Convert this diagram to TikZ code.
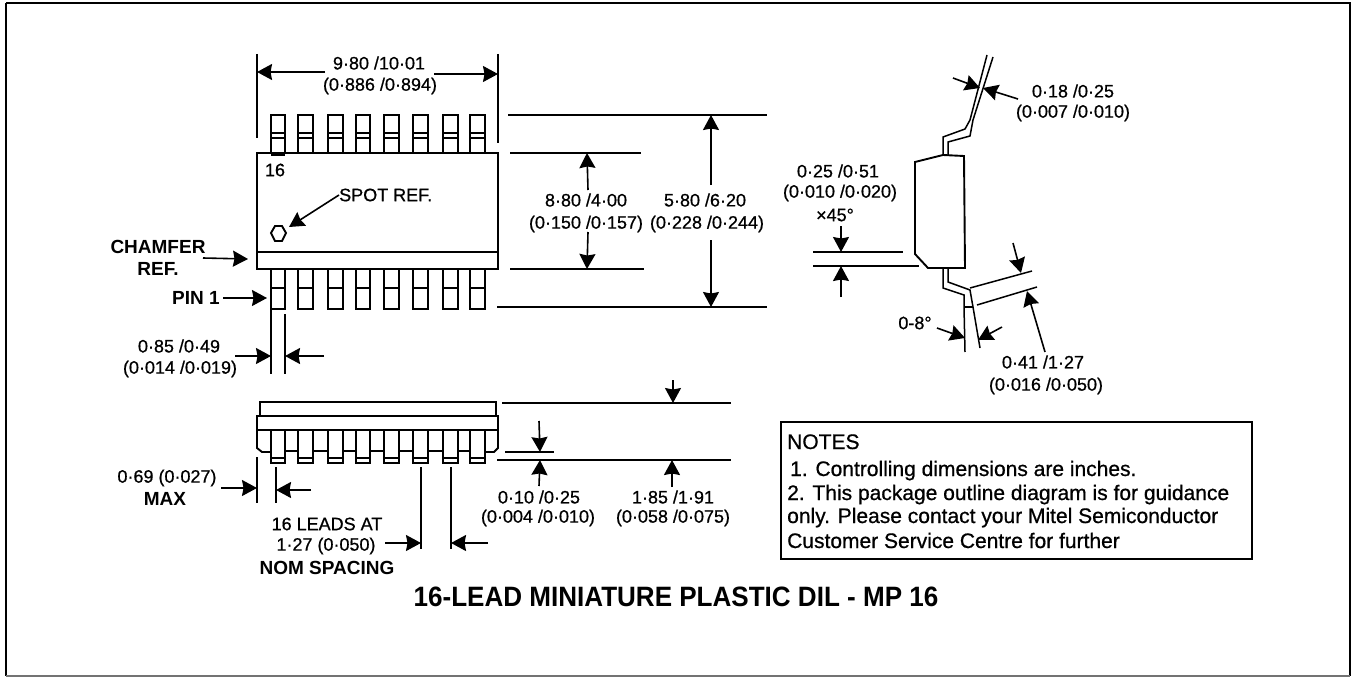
\documentclass[tikz,border=0pt]{standalone}
\usepackage{fontspec}
\setmainfont{Liberation Sans}
\newfontfamily\dimfont[FakeBold=0.7]{Liberation Sans}
\usetikzlibrary{arrows.meta}
\tikzset{
  x=1pt,y=-1pt,
  ln/.style={line width=1.9pt,black},
  thin ln/.style={line width=1.5pt,black},
  dim/.style={line width=1.6pt,black,-{Stealth[length=15pt,width=16pt,inset=1.5pt]}},
  lbl/.style={inner sep=0pt,font=\fontsize{18}{18}\dimfont},
  caps/.style={inner sep=0pt,font=\fontsize{19}{19}\selectfont\bfseries},
  note/.style={inner sep=0pt,anchor=base west,font=\fontsize{21}{21}\dimfont},
}
\begin{document}
\begin{tikzpicture}
\useasboundingbox (0,0) rectangle (1352,677);
\fill[white] (0,0) rectangle (1352,677);
\draw[line width=2pt] (6,3) -- (1350,3) -- (1350,676);
\draw[line width=2pt] (6,3) -- (6,676);
\draw[line width=1.2pt,black!55] (6,676) -- (1350,676);
% top view body
\draw[ln] (257,153) rectangle (498,269);
\draw[ln] (257,252) -- (498,252);
\foreach \a/\b in {271/285,298/313,328/343,356/370,384/399,413/428,443/458,470/485}{
  \draw[ln] (\a,153) -- (\a,115) -- (\b,115) -- (\b,153);
  \draw[thin ln] (\a,133) -- (\b,133) (\a,138) -- (\b,138);
  \draw[ln] (\a,269) -- (\a,309) -- (\b,309) -- (\b,269);
  \draw[line width=2.6pt] (\a,288) -- (\b,288);
}
\draw[line width=2.6pt] (271,155) -- (285,155);
\node[lbl] (n16) at (275,170) {16};
\node[lbl,anchor=west] (spot) at (339,195) {SPOT REF.};
\draw[ln] (271,233) -- (275,226) -- (282,226) -- (286,233) -- (282,241) -- (275,241) -- cycle;
\coordinate (spotc) at (289,227);
\draw[dim] (spot.west) -- (spotc);
% top dimension
\draw[ln] (257,54) -- (257,138);
\draw[ln] (498,54) -- (498,143);
\node[lbl] (d1a) at (379,63) {9·80 /10·01};
\node[lbl] (d1b) at (380,86) {(0·886 /0·894)};
\coordinate (e1) at (257,72); \coordinate (s1) at (325,72);
\coordinate (e2) at (498,74); \coordinate (s2) at (434,74);
\draw[dim] (s1) -- (e1);
\draw[dim] (s2) -- (e2);
% chamfer & pin 1
\node[caps] (ch) at (158,247) {CHAMFER};
\node[caps] (rf) at (158,269) {REF.};
\coordinate (cs) at (203,258); \coordinate (ce) at (248,259);
\draw[dim] (cs) -- (ce);
\node[caps] (pin) at (196,298) {PIN 1};
\coordinate (ps) at (223,298); \coordinate (pe) at (267,298);
\draw[dim] (ps) -- (pe);
% pin width
\draw[ln] (271,309) -- (271,374);
\draw[ln] (285,314) -- (285,374);
\node[lbl] (w1) at (179,346) {0·85 /0·49};
\node[lbl] (w2) at (180,369) {(0·014 /0·019)};
\coordinate (ws) at (235,356); \coordinate (we) at (271,356);
\coordinate (vs) at (324,356); \coordinate (ve) at (285,356);
\draw[dim] (ws) -- (we);
\draw[dim] (vs) -- (ve);
% right dimension lines
\draw[ln] (508,115) -- (767,115);
\draw[ln] (510,153) -- (641,153);
\draw[ln] (510,269) -- (644,269);
\draw[ln] (497,307) -- (767,307);
\node[lbl] (h1) at (586,200) {8·80 /4·00};
\node[lbl] (h2) at (586,224) {(0·150 /0·157)};
\node[lbl] (h3) at (705,200) {5·80 /6·20};
\node[lbl] (h4) at (707,224) {(0·228 /0·244)};
\coordinate (a1) at (588,190); \coordinate (a2) at (587,153);
\coordinate (a3) at (588,232); \coordinate (a4) at (587,269);
\coordinate (a5) at (711,185); \coordinate (a6) at (711,115);
\coordinate (a7) at (711,240); \coordinate (a8) at (711,307);
\draw[dim] (a1) -- (a2);
\draw[dim] (a3) -- (a4);
\draw[dim] (a5) -- (a6);
\draw[dim] (a7) -- (a8);
% side view
\draw[ln] (915,162) -- (943,155) -- (964,156) -- (965,268) -- (928,268) -- (915,254) -- cycle;
\draw[thin ln] (943,155) -- (943,137) -- (965,129) -- (970,120) -- (987,55);
\draw[thin ln] (948,155) -- (948,142) -- (970,136) -- (973,120) -- (993,57);
\draw[thin ln] (943,268) -- (943,288) -- (964,295) -- (964,307) -- (965,352);
\draw[thin ln] (948,268) -- (948,282) -- (970,290) -- (973,307) -- (980,348);
\draw[thin ln] (964,307) -- (973,307);
\coordinate (b1) at (953,78); \coordinate (b2) at (980,88);
\coordinate (b3) at (1018,99); \coordinate (b4) at (983,88);
\draw[dim] (b1) -- (b2);
\draw[dim] (b3) -- (b4);
\node[lbl] (s1t) at (1073,91) {0·18 /0·25};
\node[lbl] (s2t) at (1073,113) {(0·007 /0·010)};
\node[lbl] (c1t) at (838,171) {0·25 /0·51};
\node[lbl] (c2t) at (840,193) {(0·010 /0·020)};
\node[lbl] (c3t) at (835,215) {×45°};
\draw[ln] (813,252) -- (903,252);
\draw[ln] (813,266) -- (919,266);
\coordinate (f1) at (841,226); \coordinate (f2) at (841,252);
\coordinate (f3) at (841,297); \coordinate (f4) at (841,266);
\draw[dim] (f1) -- (f2);
\draw[dim] (f3) -- (f4);
\draw[thin ln] (970,288) -- (1032,271);
\draw[thin ln] (977,305) -- (1037,287);
\coordinate (g1) at (1013,243); \coordinate (g2) at (1021,273);
\coordinate (g3) at (1045,352); \coordinate (g4) at (1027,291);
\draw[dim] (g1) -- (g2);
\draw[dim] (g3) -- (g4);
\node[lbl] (t8) at (915,323) {0-8°};
\coordinate (k1) at (937,328); \coordinate (k2) at (965,338);
\coordinate (k3) at (1002,327); \coordinate (k4) at (978,340);
\draw[dim] (k1) -- (k2);
\draw[dim] (k3) -- (k4);
\node[lbl] (l1) at (1043,362) {0·41 /1·27};
\node[lbl] (l2) at (1046,386) {(0·016 /0·050)};
% bottom view
\draw[ln] (260,416) -- (260,402) -- (496,402) -- (496,416);
\draw[ln] (257,416) rectangle (498,430);
\draw[ln] (257,430) -- (257,448) -- (262,452) -- (271,452);
\draw[ln] (498,430) -- (498,448) -- (494,452) -- (485,452);
\foreach \a/\b in {271/285,298/313,328/343,356/370,384/399,413/428,443/458,470/485}{
  \draw[ln] (\a,430) -- (\a,463) -- (\b,463) -- (\b,430);
  \draw[thin ln] (\a,458) -- (\b,458);
}
\foreach \a/\b in {285/298,313/328,343/356,370/384,399/413,428/443,458/470}{
  \draw[ln] (\a,451) -- (\b,451);
}
\draw[ln] (502,403) -- (731,403);
\draw[ln] (497,460) -- (731,460);
\draw[ln] (505,452) -- (554,452);
\coordinate (m1) at (673,380); \coordinate (m2) at (673,403);
\coordinate (m3) at (672,487); \coordinate (m4) at (672,460);
\coordinate (m5) at (539,421); \coordinate (m6) at (540,452);
\coordinate (m7) at (539,486); \coordinate (m8) at (540,460);
\draw[dim] (m1) -- (m2);
\draw[dim] (m3) -- (m4);
\draw[dim] (m5) -- (m6);
\draw[dim] (m7) -- (m8);
\node[lbl] (o1) at (539,497) {0·10 /0·25};
\node[lbl] (o2) at (538,518) {(0·004 /0·010)};
\node[lbl] (o3) at (673,497) {1·85 /1·91};
\node[lbl] (o4) at (673,518) {(0·058 /0·075)};
\draw[ln] (257,457) -- (257,503);
\draw[ln] (276,467) -- (276,503);
\node[lbl] (q1) at (167,478) {0·69 (0·027)};
\node[caps] (q2) at (165,499) {MAX};
\coordinate (r1) at (221,488); \coordinate (r2) at (257,488);
\coordinate (r3) at (311,490); \coordinate (r4) at (276,490);
\draw[dim] (r1) -- (r2);
\draw[dim] (r3) -- (r4);
\draw[ln] (421,467) -- (421,549);
\draw[ln] (451,467) -- (451,549);
\node[lbl] (u1) at (327,524) {16 LEADS AT};
\node[lbl] (u2) at (326,546) {1·27 (0·050)};
\node[caps] (u3) at (327,568) {NOM SPACING};
\coordinate (v1) at (385,543); \coordinate (v2) at (421,543);
\coordinate (v3) at (488,543); \coordinate (v4) at (451,543);
\draw[dim] (v1) -- (v2);
\draw[dim] (v3) -- (v4);
% notes
\draw[line width=2pt] (781,422) rectangle (1252,559);
\node[note] (nt) at (787,449) {NOTES};
\node[note] (nt1) at (790,476) {1. Controlling dimensions are inches.};
\node[note] (nt2) at (787,500) {2. This package outline diagram is for guidance};
\node[note] (nt3) at (787,523) {only. Please contact your Mitel Semiconductor};
\node[note] (nt4) at (787,548) {Customer Service Centre for further};
\node[inner sep=0pt,anchor=base,font=\fontsize{28}{28}\selectfont\bfseries] (title) at (676,606) {\scalebox{.93}[1]{16-LEAD MINIATURE PLASTIC DIL - MP 16}};
\end{tikzpicture}
\end{document}
